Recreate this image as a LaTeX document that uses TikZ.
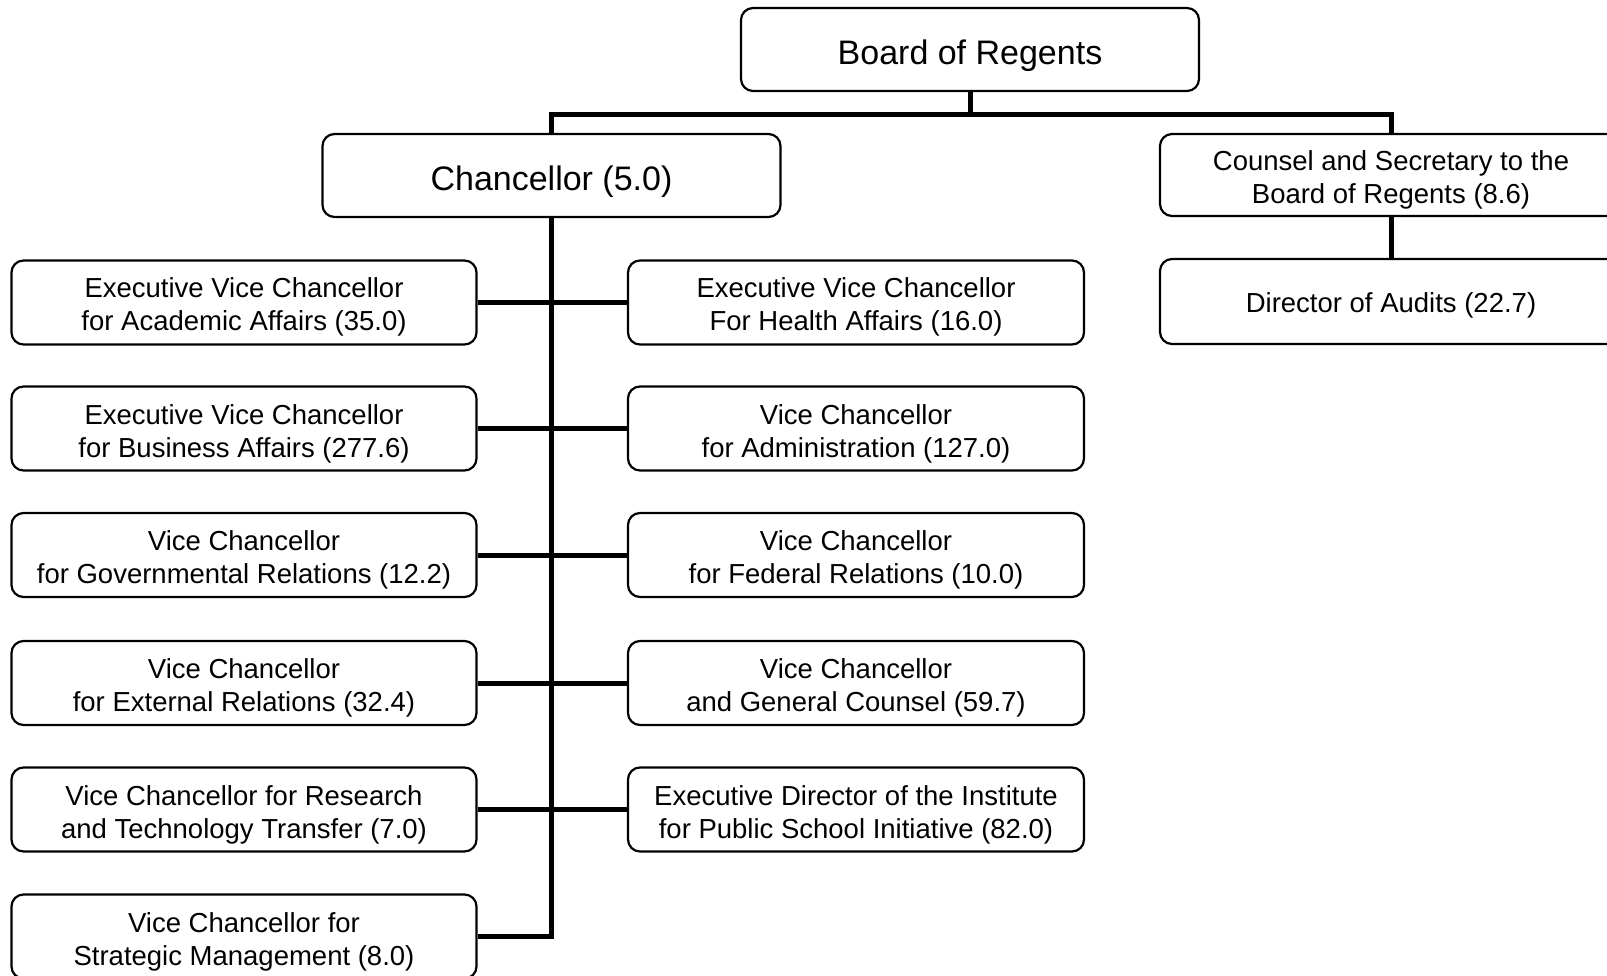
\documentclass[tikz,border=0pt]{standalone}
\usepackage{fontspec}
\setmainfont{Liberation Sans}
\usetikzlibrary{positioning}

\begin{document}
\begin{tikzpicture}[
    x=1pt, y=-1pt,
    box/.style={draw, rectangle, rounded corners=12pt, line width=2.2pt, align=center, minimum height=84pt, inner sep=0pt, text depth=0pt, text height=57pt, font=\fontsize{27.5}{33}\selectfont},
    lbox/.style={box, minimum width=465pt},
    rbox/.style={box, minimum width=456pt},
    topbox/.style={box, minimum width=458pt, minimum height=83pt, text height=30pt, font=\fontsize{34}{40}\selectfont},
    conn/.style={line width=5pt}
]
    \useasboundingbox (0,0) rectangle (1607,976);
    \clip (0,0) rectangle (1607,976);

    \node[topbox] (board) at (970,49.5) {Board of Regents};
    \node[topbox] (chanc) at (551.5,175.5) {Chancellor (5.0)};
    \node[box, minimum width=462pt, minimum height=82pt] (counsel) at (1391,175) {Counsel and Secretary to the\\Board of Regents (8.6)};
    \node[box, minimum width=462pt, minimum height=85pt, text height=23pt] (audit) at (1391,301.5) {Director of Audits (22.7)};

    \node[lbox] (evcaa) at (244,302.5) {Executive Vice Chancellor\\for Academic Affairs (35.0)};
    \node[lbox] (evcba) at (244,428.5) {Executive Vice Chancellor\\for Business Affairs (277.6)};
    \node[lbox] (vcgr) at (244,555) {Vice Chancellor\\for Governmental Relations (12.2)};
    \node[lbox] (vcer) at (244,683) {Vice Chancellor\\for External Relations (32.4)};
    \node[lbox] (vcrt) at (244,809.5) {Vice Chancellor for Research\\and Technology Transfer (7.0)};
    \node[lbox] (vcsm) at (244,936.5) {Vice Chancellor for\\Strategic Management (8.0)};

    \node[rbox] (evcha) at (856,302.5) {Executive Vice Chancellor\\For Health Affairs (16.0)};
    \node[rbox] (vcadm) at (856,428.5) {Vice Chancellor\\for Administration (127.0)};
    \node[rbox] (vcfr) at (856,555) {Vice Chancellor\\for Federal Relations (10.0)};
    \node[rbox] (vcgc) at (856,683) {Vice Chancellor\\and General Counsel (59.7)};
    \node[rbox] (edips) at (856,809.5) {Executive Director of the Institute\\for Public School Initiative (82.0)};

    \draw[conn] (board.south) -- ++(0,22) -| (chanc.north);
    \draw[conn] (board.south) -- ++(0,22) -| (counsel.north);
    \draw[conn] (counsel) -- (audit);
    \draw[conn] (chanc.south) |- (vcsm.east);
    \draw[conn] (evcaa) -- (evcha);
    \draw[conn] (evcba) -- (vcadm);
    \draw[conn] (vcgr) -- (vcfr);
    \draw[conn] (vcer) -- (vcgc);
    \draw[conn] (vcrt) -- (edips);
\end{tikzpicture}
\end{document}
